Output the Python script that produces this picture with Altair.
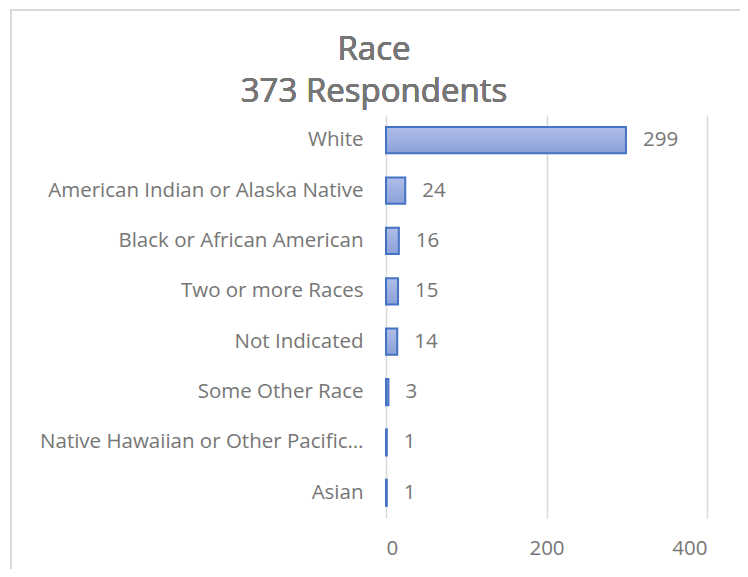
import altair as alt
import pandas as pd

categories = ["White", "American Indian or Alaska Native", "Black or African American",
              "Two or more Races", "Not Indicated", "Some Other Race",
              "Native Hawaiian or Other Pacific Islander", "Asian"]
counts = [299, 24, 16, 15, 14, 3, 1, 1]
title_lines = ["Race", "373 Respondents"]
x_ticks = [0, 200, 400]

df = pd.DataFrame({"race": categories, "count": counts})

FONT = "Open Sans"
GRAY = "#767676"
FS = 20.5

y_enc = alt.Y("race:N", sort=categories, title=None,
              scale=alt.Scale(paddingInner=0.48, paddingOuter=0.24),
              axis=alt.Axis(ticks=False, domain=False, grid=False, labelPadding=23,
                            labelFont=FONT, labelFontSize=FS, labelColor=GRAY,
                            labelLimit=326))
x_enc = alt.X("count:Q", title=None,
              scale=alt.Scale(domain=[0, 400], nice=False),
              axis=alt.Axis(values=x_ticks, ticks=False, domain=False, grid=True,
                            gridColor="#d9d9d9", gridWidth=1.5, labelPadding=20,
                            labelFont=FONT, labelFontSize=FS, labelColor=GRAY))

grad = alt.Gradient(gradient="linear", x1=0, y1=0, x2=0, y2=1,
                    stops=[alt.GradientStop(color="#b0bde6", offset=0),
                           alt.GradientStop(color="#8ba1da", offset=1)])

bars = alt.Chart(df).mark_bar(fill=grad, stroke="#4472c4", strokeWidth=2).encode(
    y=y_enc, x=x_enc)

labels = alt.Chart(df).mark_text(align="left", baseline="middle", dx=17,
                                 font=FONT, fontSize=FS, color=GRAY).encode(
    y=alt.Y("race:N", sort=categories), x="count:Q", text="count:Q")

border = alt.Chart(df).mark_rect(fill=None, stroke="#d9d9d9", strokeWidth=2).encode(
    x=alt.value(-375), x2=alt.value(357), y=alt.value(-105), y2=alt.value(470))

title1 = alt.Chart(df).mark_text(align="center", baseline="alphabetic", font=FONT,
                                 fontSize=33, color=GRAY).encode(
    x=alt.value(-12), y=alt.value(-55), text=alt.value(title_lines[0]))
title2 = alt.Chart(df).mark_text(align="center", baseline="alphabetic", font=FONT,
                                 fontSize=33, color=GRAY).encode(
    x=alt.value(-12), y=alt.value(-13), text=alt.value(title_lines[1]))

chart = alt.layer(border, bars, labels, title1, title2).properties(
    width=321, height=403,
    padding={"left": 378, "top": 107, "right": 33, "bottom": 51},
    autosize=alt.AutoSizeParams(type="none"),
).configure_view(stroke=None)

chart.save("out.html", embed_options={"renderer": "svg", "actions": False})
